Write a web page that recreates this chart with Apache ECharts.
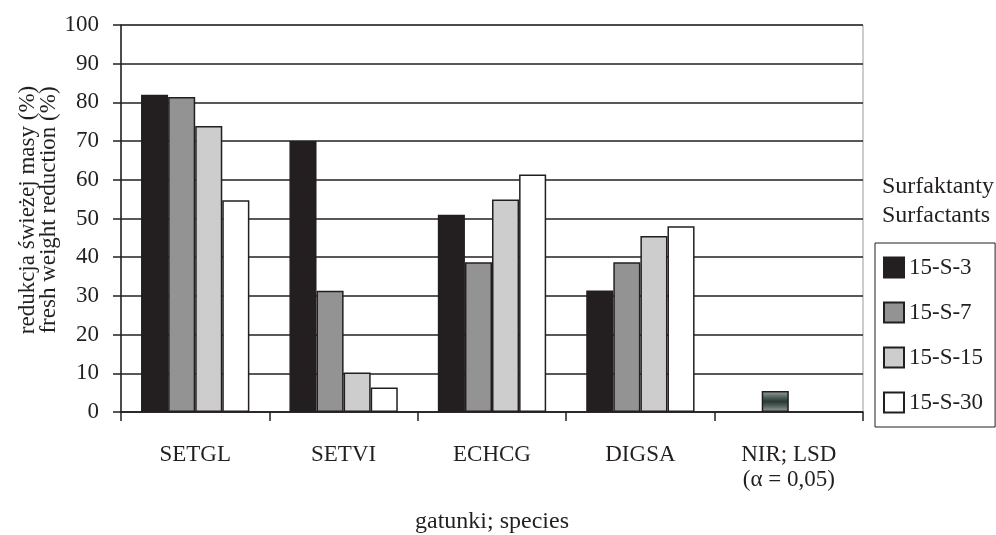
<!DOCTYPE html>
<html>
<head>
<meta charset="utf-8">
<script src="https://cdn.jsdelivr.net/npm/echarts@6/dist/echarts.min.js"></script>
<style>
html,body{margin:0;padding:0;background:#fff;}
#chart{width:996px;height:535px;}
</style>
</head>
<body>
<div id="chart"></div>
<script>
var categories = ['SETGL', 'SETVI', 'ECHCG', 'DIGSA', 'NIR; LSD\n(\u03b1 = 0,05)'];
var seriesNames = ['15-S-3', '15-S-7', '15-S-15', '15-S-30'];
var s3  = [82, 70, 51, 31.4, null];
var s7  = [81.4, 31.3, 38.7, 38.7, null];
var s15 = [73.9, 10.2, 54.9, 45.5, null];
var s30 = [54.7, 6.3, 61.4, 48.0, null];
var lsdValue = 5.4;           // NIR; LSD bar (drawn in the 15-S-7 slot)
var lsdCategoryIndex = 4;
var yTicks = [0, 10, 20, 30, 40, 50, 60, 70, 80, 90, 100];

var FONT = "'Liberation Serif', 'Times New Roman', serif";
var INK = '#231f20';
var colors = ['#231f20', '#939393', '#cdcdcd', '#ffffff'];

var lsdGradient = new echarts.graphic.LinearGradient(0, 0, 0, 1, [
  {offset: 0, color: '#9aa6a2'},
  {offset: 0.3, color: '#4f5f5a'},
  {offset: 0.5, color: '#2b3835'},
  {offset: 0.7, color: '#4f5f5a'},
  {offset: 1, color: '#9aa6a2'}
]);

function buildData(arr, idx) {
  return arr.map(function (v, i) {
    if (idx === 1 && i === lsdCategoryIndex) {
      return {value: lsdValue, itemStyle: {color: lsdGradient}};
    }
    return v === null ? '-' : v;
  });
}

var allSeries = [s3, s7, s15, s30].map(function (arr, idx) {
  return {
    name: seriesNames[idx],
    type: 'bar',
    data: buildData(arr, idx),
    barGap: '0%',
    barCategoryGap: '27%',
    itemStyle: {color: colors[idx], borderColor: INK, borderWidth: 1.5},
    emphasis: {disabled: true},
    animation: false
  };
});

var chart = echarts.init(document.getElementById('chart'), null, {renderer: 'canvas'});
chart.setOption({
  animation: false,
  backgroundColor: '#ffffff',
  title: {
    text: 'Surfaktanty\nSurfactants',
    left: 882,
    top: 172,
    padding: 0,
    textStyle: {fontFamily: FONT, fontSize: 24, fontWeight: 'normal', color: INK, lineHeight: 29}
  },
  legend: {
    orient: 'vertical',
    left: 875,
    top: 243,
    padding: [13, 12, 13, 8],
    itemWidth: 20,
    itemHeight: 20,
    itemGap: 22,
    itemTextGap: 6,
    icon: 'rect',
    borderColor: INK,
    borderWidth: 1,
    selectedMode: false,
    data: seriesNames,
    textStyle: {fontFamily: FONT, fontSize: 23, color: INK}
  },
  grid: {
    left: 121, right: 133, top: 25, bottom: 123,
    containLabel: false,
    outerBoundsMode: 'none',
    show: true, borderColor: '#9a9a9a', borderWidth: 1
  },
  xAxis: {
    type: 'category',
    data: categories,
    name: 'gatunki; species',
    nameLocation: 'middle',
    nameGap: 98,
    nameTextStyle: {fontFamily: FONT, fontSize: 24, color: INK},
    axisLine: {lineStyle: {color: INK, width: 1.5}},
    axisTick: {show: true, length: 9, lineStyle: {color: INK, width: 1.5}},
    axisLabel: {fontFamily: FONT, fontSize: 23, color: INK, margin: 30, lineHeight: 25}
  },
  yAxis: {
    type: 'value',
    min: 0, max: 100, interval: 10,
    axisLine: {show: true, lineStyle: {color: INK, width: 1.5}},
    axisTick: {show: true, length: 8, lineStyle: {color: INK, width: 1.5}},
    axisLabel: {fontFamily: FONT, fontSize: 23, color: INK, margin: 22,
      formatter: function (v) { return yTicks.indexOf(v) >= 0 ? String(v) : ''; }},
    splitLine: {show: true, lineStyle: {color: INK, width: 1.5}}
  },
  graphic: [{
    type: 'text',
    x: 38,
    y: 210,
    rotation: Math.PI / 2,
    style: {
      text: 'redukcja \u015bwie\u017cej masy (%)\nfresh weight reduction (%)',
      fontFamily: FONT,
      fontSize: 23,
      lineHeight: 21,
      fill: INK,
      textAlign: 'center',
      textVerticalAlign: 'middle'
    }
  }],
  series: allSeries
});
</script>
</body>
</html>
